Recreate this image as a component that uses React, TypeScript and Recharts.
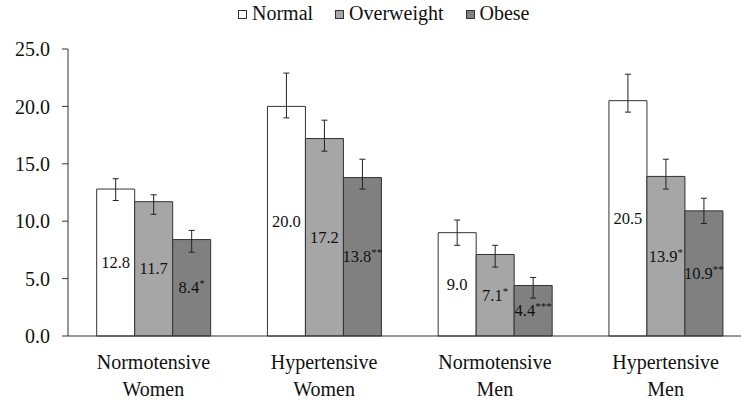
import React from "react";
import {
  BarChart,
  Bar,
  XAxis,
  YAxis,
  ErrorBar,
  LabelList,
} from "recharts";

const categoryTop = ["Normotensive", "Hypertensive", "Normotensive", "Hypertensive"];
const categoryBottom = ["Women", "Women", "Men", "Men"];

const seriesNames = ["Normal", "Overweight", "Obese"];
const seriesFills = ["#ffffff", "#a6a6a6", "#808080"];

const normalValues = [12.8, 20.0, 9.0, 20.5];
const overweightValues = [11.7, 17.2, 7.1, 13.9];
const obeseValues = [8.4, 13.8, 4.4, 10.9];

const normalLow = [11.8, 19.0, 7.9, 19.5];
const normalHigh = [13.7, 22.9, 10.1, 22.8];
const overweightLow = [10.6, 16.1, 6.0, 12.8];
const overweightHigh = [12.3, 18.8, 7.9, 15.4];
const obeseLow = [7.3, 12.8, 3.3, 9.8];
const obeseHigh = [9.2, 15.4, 5.1, 12.0];

const normalSig = ["", "", "", ""];
const overweightSig = ["", "", "*", "*"];
const obeseSig = ["*", "**", "***", "**"];

const yTicks = [0, 5, 10, 15, 20, 25];
const boundaryTicks = [0, 1, 2, 3, 4];

const data = categoryTop.map((c, i) => ({
  idx: i,
  normal: normalValues[i],
  overweight: overweightValues[i],
  obese: obeseValues[i],
  normalErr: [normalValues[i] - normalLow[i], normalHigh[i] - normalValues[i]],
  overweightErr: [overweightValues[i] - overweightLow[i], overweightHigh[i] - overweightValues[i]],
  obeseErr: [obeseValues[i] - obeseLow[i], obeseHigh[i] - obeseValues[i]],
}));

const FONT = "Liberation Serif";

const makeLabel = (sigs: string[]) => (props: any) => {
  const { x, y, width, height, value, index } = props;
  const cx = Number(x) + Number(width) / 2;
  const cy = Number(y) + Number(height) / 2;
  const sig = sigs[index] || "";
  return (
    <text
      x={cx}
      y={cy + 5.5}
      textAnchor="middle"
      fontFamily={FONT}
      fontSize={16.5}
      fill="#111"
    >
      <tspan>{Number(value).toFixed(1)}</tspan>
      {sig ? (
        <tspan fontSize={11} dy={-6}>
          {sig}
        </tspan>
      ) : null}
    </text>
  );
};

const CategoryTick = (props: any) => {
  const { x, y, payload } = props;
  const i = payload.index;
  return (
    <g>
      <text x={x} y={y + 27} textAnchor="middle" fontFamily={FONT} fontSize={20} fill="#111">
        {categoryTop[i]}
      </text>
      <text x={x} y={y + 54} textAnchor="middle" fontFamily={FONT} fontSize={20} fill="#111">
        {categoryBottom[i]}
      </text>
    </g>
  );
};

const seriesKeys = ["normal", "overweight", "obese"];
const seriesSigs = [normalSig, overweightSig, obeseSig];

export default function App() {
  return (
    <div
      style={{
        position: "absolute",
        left: 0,
        top: 0,
        width: 741,
        height: 404,
        overflow: "hidden",
        background: "#fff",
      }}
    >
      <div
        style={{
          position: "absolute",
          left: 238,
          top: 2,
          display: "flex",
          alignItems: "center",
          fontFamily: FONT,
          fontSize: 20,
          color: "#111",
          whiteSpace: "nowrap",
          zIndex: 2,
        }}
      >
        {seriesNames.map((n, i) => (
          <div key={n} style={{ display: "flex", alignItems: "center", marginRight: 22 }}>
            <span
              style={{
                display: "inline-block",
                width: 7,
                height: 7,
                border: "1px solid #333",
                background: seriesFills[i],
                marginRight: 5,
                marginTop: 2,
              }}
            />
            <span>{n}</span>
          </div>
        ))}
      </div>
      <BarChart
        width={760}
        height={404}
        data={data}
        margin={{ top: 49, right: 9, bottom: 0, left: 0 }}
        barCategoryGap="16.8%"
        barGap={0}
      >
        <XAxis
          xAxisId="bounds"
          type="number"
          dataKey="idx"
          domain={[0, 4]}
          ticks={boundaryTicks}
          allowDataOverflow
          tick={false}
          tickSize={6}
          height={6}
          stroke="#333"
          axisLine={{ stroke: "#333" }}
          tickLine={{ stroke: "#333" }}
        />
        <XAxis
          xAxisId="cat"
          dataKey="idx"
          type="category"
          height={62}
          axisLine={false}
          tickLine={false}
          tickSize={0}
          tickMargin={0}
          interval={0}
          tick={<CategoryTick />}
        />
        <YAxis
          domain={[0, 25]}
          ticks={yTicks}
          width={68}
          tickSize={6}
          tickMargin={12}
          tickFormatter={(v: number) => v.toFixed(1)}
          tick={{ fontFamily: FONT, fontSize: 20, fill: "#111" }}
          axisLine={{ stroke: "#333" }}
          tickLine={{ stroke: "#333" }}
          interval={0}
        />
        {seriesKeys.map((k, i) => (
          <Bar
            key={k}
            xAxisId="cat"
            dataKey={k}
            name={seriesNames[i]}
            fill={seriesFills[i]}
            stroke="#333"
            strokeWidth={1}
            isAnimationActive={false}
          >
            <ErrorBar dataKey={k + "Err"} width={3} stroke="#222" strokeWidth={1} direction="y" />
            <LabelList dataKey={k} content={makeLabel(seriesSigs[i])} />
          </Bar>
        ))}
      </BarChart>
    </div>
  );
}
